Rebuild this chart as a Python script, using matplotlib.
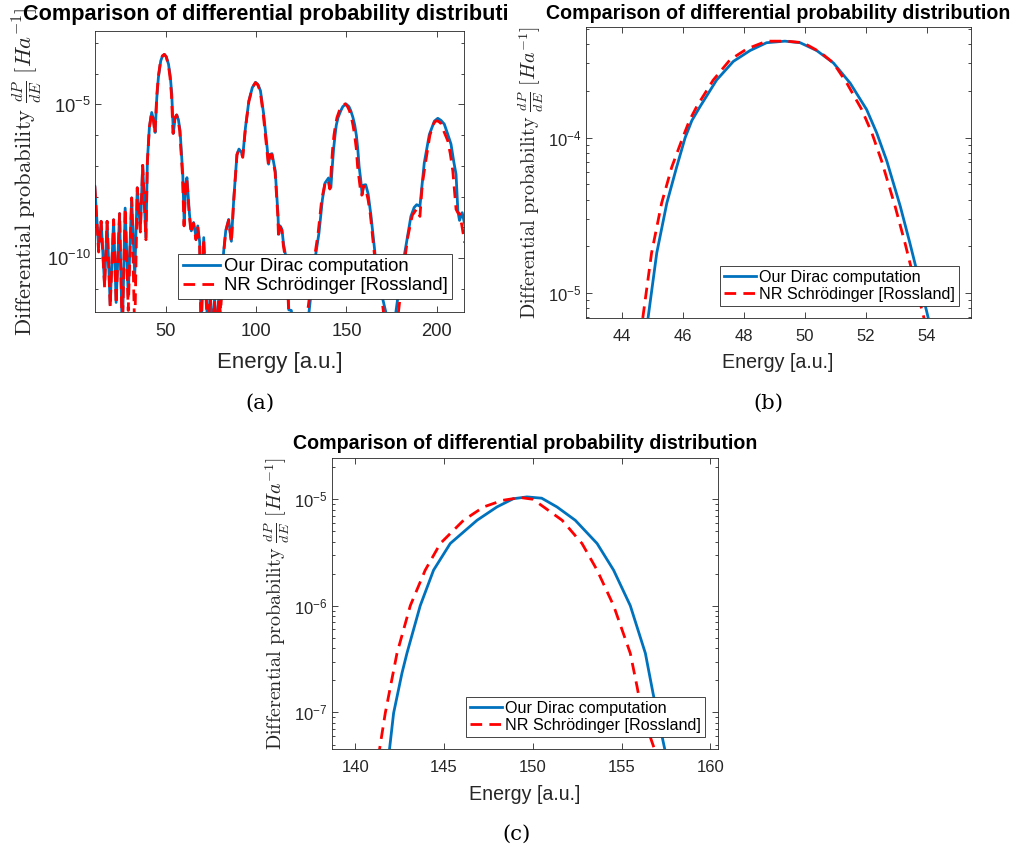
import numpy as np
import matplotlib.pyplot as plt
from matplotlib.ticker import FixedLocator, LogLocator, NullFormatter, FuncFormatter
from matplotlib.transforms import Bbox, TransformedBbox

plt.rcParams['font.family'] = ['Liberation Sans', 'DejaVu Sans']

W, H = 1014, 856
BLUE = '#0072BD'
RED = '#FF0000'
INK = '#262626'

# ---- panel (a): full spectrum, values stored as log10(dP/dE) ----
dirac_a_E = [10.7, 12.8, 14.2, 16.1, 17.5, 19.2, 21.1, 22.5, 24.4, 25.9, 27.5, 29.2, 31.1,
             32.8, 34.2, 35.9, 37.2, 39.0, 39.8, 40.9, 42.2, 43.2, 44.1, 45.0, 45.9, 47.2,
             48.2, 49.2, 50.3, 51.5, 52.5, 53.3, 54.2, 55.1, 56.1, 57.0, 57.9, 59.4, 60.2,
             61.0, 61.7, 63.1, 64.1, 65.4, 66.8, 67.7, 68.8, 69.6, 71.0, 72.3, 73.3, 74.6,
             75.8, 77.0, 78.3, 79.4, 80.3, 82.0, 83.2, 84.8, 86.3, 87.6, 88.5, 89.4, 90.5,
             91.8, 92.6, 94.1, 96.0, 97.9, 99.7, 101.0, 102.4, 104.2, 106.1, 106.9, 107.8,
             108.8, 110.6, 112.1, 112.5, 113.3, 114.3, 115.2, 116.3, 117.2, 118.1, 119.5,
             121.0, 125.5, 129.3, 132.0, 134.8, 136.7, 138.2, 140.1, 141.4, 142.2, 142.9,
             143.7, 144.4, 145.4, 146.9, 148.0, 149.7, 151.4, 152.4, 153.6, 154.6, 155.5,
             156.3, 157.0, 157.9, 158.7, 159.6, 160.7, 162.0, 163.5, 165.3, 167.5, 170.0,
             172.4, 174.5, 177.4, 180.0, 182.9, 185.7, 187.5, 188.9, 190.7, 193.1, 195.9,
             198.7, 200.6, 202.4, 204.2, 206.0, 207.9, 209.4, 210.7, 211.7, 212.6, 214.1,
             215.5]
dirac_a_logP = [-7.66, -9.66, -8.80, -10.86, -8.80, -11.51, -8.75, -11.44, -8.55, -12.5, -8.37,
                -11.24, -8.04, -10.59, -7.71, -9.07, -6.98, -9.33, -6.84, -5.75, -5.26, -5.50,
                -5.91, -4.80, -4.12, -3.58, -3.42, -3.37, -3.45, -3.69, -4.10, -4.66, -5.94,
                -5.45, -5.34, -5.50, -5.86, -7.27, -8.90, -7.60, -7.38, -8.57, -9.11, -8.84,
                -9.33, -8.95, -9.50, -12.5, -9.33, -11.0, -12.5, -11.1, -12.5, -11.3, -12.5,
                -11.2, -11.6, -9.80, -9.10, -8.74, -9.45, -8.10, -7.38, -6.62, -6.45, -6.55,
                -6.68, -5.75, -4.88, -4.45, -4.28, -4.35, -4.55, -5.32, -6.40, -6.94, -6.62,
                -6.60, -7.16, -8.57, -9.22, -8.95, -9.06, -9.55, -9.90, -10.4, -11.68, -11.70,
                -12.5, -12.5, -11.75, -10.27, -9.18, -8.09, -7.55, -7.39, -7.70, -7.00, -6.45,
                -6.00, -5.67, -5.42, -5.20, -5.07, -4.98, -5.07, -5.20, -5.42, -5.67, -6.00,
                -6.45, -7.00, -7.44, -7.93, -7.62, -7.61, -7.90, -8.57, -9.55, -10.8, -11.3,
                -11.9, -12.5, -11.75, -10.6, -9.62, -8.64, -8.35, -8.26, -8.31, -6.90, -5.98,
                -5.54, -5.45, -5.52, -5.64, -5.95, -6.29, -6.85, -7.27, -8.46, -8.77, -8.52,
                -8.90]

nr_a_E = [10.7, 12.8, 14.2, 16.1, 17.5, 19.2, 21.1, 22.5, 24.4, 25.9, 27.5, 29.2, 31.1,
          32.8, 34.2, 35.9, 37.2, 39.0, 39.8, 40.9, 42.1, 43.1, 44.0, 44.9, 45.8, 47.1,
          48.1, 49.2, 50.2, 51.4, 52.3, 53.1, 54.0, 54.9, 55.9, 56.8, 57.7, 59.2, 60.1,
          60.9, 61.6, 63.0, 64.0, 65.3, 66.7, 67.6, 68.7, 69.5, 70.9, 72.2, 73.2, 74.5,
          75.7, 76.9, 78.2, 79.3, 80.3, 82.0, 83.2, 84.8, 86.3, 87.6, 88.5, 89.4, 90.5,
          91.8, 92.6, 94.1, 96.0, 97.9, 99.6, 100.9, 102.3, 104.0, 105.9, 106.8, 107.7,
          108.7, 110.5, 112.0, 112.4, 113.2, 114.2, 115.1, 116.2, 117.1, 118.0, 119.4,
          120.8, 125.5, 128.5, 131.5, 134.3, 136.3, 138.0, 139.8, 140.8, 141.4, 141.7,
          142.35, 143.1, 143.94, 144.79, 146.1, 147.23, 149.3, 150.61, 151.65, 152.77,
          153.62, 154.55, 155.49, 156.15, 156.85, 157.6, 158.5, 159.5, 160.5, 162.0,
          163.3, 165.0, 167.3, 170.0, 172.0, 174.5, 178.8, 181.5, 184.0, 186.5, 188.9,
          190.7, 192.0, 193.5, 196.2, 198.3, 199.6, 201.0, 202.4, 204.0, 206.1, 207.5,
          208.9, 210.0, 210.7, 211.7, 212.6, 213.8, 215.5]
nr_a_logP = [-7.66, -9.80, -8.80, -10.95, -8.80, -11.6, -8.75, -11.5, -8.55, -12.5, -8.37,
             -11.7, -8.04, -12.5, -7.71, -9.15, -6.98, -9.40, -6.84, -5.75, -5.26, -5.50,
             -5.95, -4.80, -4.12, -3.58, -3.42, -3.37, -3.45, -3.70, -4.10, -4.66, -5.94,
             -5.45, -5.34, -5.50, -5.86, -7.27, -8.95, -7.60, -7.40, -8.60, -9.20, -8.86,
             -9.40, -8.97, -9.55, -12.5, -9.36, -11.2, -12.5, -11.2, -12.5, -11.4, -12.5,
             -11.3, -11.8, -9.85, -9.12, -8.76, -9.50, -8.12, -7.40, -6.64, -6.47, -6.57,
             -6.72, -5.77, -4.90, -4.45, -4.29, -4.36, -4.58, -5.35, -6.43, -6.97, -6.64,
             -6.63, -7.20, -8.62, -9.30, -8.98, -9.10, -9.60, -10.0, -10.5, -11.7, -11.75,
             -12.5, -12.5, -11.75, -10.30, -9.20, -8.10, -7.60, -7.45, -7.75, -7.34, -7.00,
             -6.45, -6.00, -5.67, -5.42, -5.20, -5.07, -4.98, -5.07, -5.20, -5.42, -5.67,
             -6.00, -6.45, -7.00, -7.34, -7.70, -7.95, -7.65, -7.70, -8.10, -8.60, -9.60,
             -10.9, -11.5, -12.5, -12.5, -11.75, -10.4, -9.30, -8.60, -8.40, -8.64, -7.60,
             -7.00, -6.00, -5.62, -5.53, -5.55, -5.62, -5.88, -6.18, -6.60, -7.16, -7.90,
             -8.41, -8.52, -8.55, -8.90, -9.50]

# ---- panel (b): zoom on the first peak ----
dirac_b_E = [44.70, 44.87, 45.15, 45.48, 45.80, 46.08, 46.30, 46.57, 47.11, 47.66, 48.21, 48.75,
             49.35, 49.85, 50.39, 50.94, 51.49, 52.03, 52.36, 52.69, 53.13, 53.45, 53.78, 54.05,
             54.30]
dirac_b_logP = [-5.40, -5.15, -4.74, -4.42, -4.19, -4.00, -3.89, -3.80, -3.63, -3.51, -3.44, -3.39,
                -3.38, -3.39, -3.44, -3.52, -3.65, -3.82, -3.97, -4.15, -4.44, -4.68, -4.94, -5.16,
                -5.40]
nr_b_E = [44.55, 44.69, 44.98, 45.31, 45.64, 46.00, 46.22, 46.46, 47.00, 47.55, 48.10, 48.75,
          49.41, 49.95, 50.50, 50.94, 51.38, 51.87, 52.20, 52.52, 52.96, 53.29, 53.62, 53.91,
          54.15]
nr_b_logP = [-5.40, -5.16, -4.74, -4.42, -4.19, -4.00, -3.89, -3.80, -3.63, -3.50, -3.43, -3.38,
             -3.38, -3.39, -3.45, -3.52, -3.65, -3.82, -3.97, -4.15, -4.44, -4.68, -4.94, -5.16,
             -5.40]

# ---- panel (c): zoom on the third peak ----
dirac_c_E = [141.75, 141.93, 142.16, 142.63, 142.91, 143.66, 144.41, 145.35, 146.86, 147.98,
             148.90, 149.67, 150.50, 151.36, 152.39, 153.62, 154.55, 155.49, 156.34, 156.77,
             157.00, 157.43, 157.65]
dirac_c_logP = [-7.60, -7.343, -7.006, -6.632, -6.445, -5.998, -5.665, -5.415, -5.197, -5.072,
                -4.995, -4.978, -4.99, -5.072, -5.197, -5.415, -5.665, -5.998, -6.445, -6.819,
                -7.006, -7.343, -7.60]
nr_c_E = [141.20, 141.37, 141.69, 142.35, 143.10, 143.94, 144.79, 146.10, 147.23, 148.30,
          149.30, 150.00, 150.61, 151.65, 152.77, 153.62, 154.55, 155.49, 155.87, 156.15,
          156.72, 156.85, 157.05]
nr_c_logP = [-7.60, -7.343, -7.006, -6.445, -5.998, -5.665, -5.415, -5.197, -5.072, -5.01,
             -4.984, -5.00, -5.072, -5.197, -5.415, -5.665, -5.998, -6.445, -6.757, -7.006,
             -7.281, -7.343, -7.60]

labels = ['Our Dirac computation', 'NR Schrödinger [Rossland]']
title = 'Comparison of differential probability distribution'
ylabel = r'$\mathrm{Differential\ probability}\ \frac{dP}{dE}\ [Ha^{-1}]$'

fig = plt.figure(figsize=(W / 100, H / 100), dpi=100)


def fx(x):
    return x / W


def fy(y):
    return 1 - y / H


def sci(v, pos):
    return r'$\mathregular{10^{%d}}$' % int(round(np.log10(v)))


def panel(box, E1, L1, E2, L2, xlim, ylim, xticks, yticks, minor_subs, fs, leg_box):
    l, t, r, b = box
    ax = fig.add_axes([fx(l), fy(b), fx(r) - fx(l), fy(t) - fy(b)])
    ax.semilogy(E1, 10.0 ** np.array(L1), color=BLUE, lw=2, label=labels[0])
    ax.semilogy(E2, 10.0 ** np.array(L2), color=RED, lw=2, ls=(0, (4.2, 2.6)), label=labels[1])
    ax.set_xlim(*xlim)
    ax.set_ylim(10.0 ** ylim[0], 10.0 ** ylim[1])
    ax.xaxis.set_major_locator(FixedLocator(xticks))
    ax.yaxis.set_major_locator(FixedLocator(yticks))
    ax.yaxis.set_major_formatter(FuncFormatter(sci))
    ax.yaxis.set_minor_locator(LogLocator(base=10, subs=minor_subs, numticks=50))
    ax.yaxis.set_minor_formatter(NullFormatter())
    ax.tick_params(which='both', direction='in', top=True, right=True, color=INK,
                   labelcolor=INK, labelsize=fs['tick'], width=0.6)
    ax.tick_params(axis='x', pad=fs['xpad'])
    ax.tick_params(axis='y', pad=3)
    ax.tick_params(which='major', length=4)
    ax.tick_params(which='minor', length=2.2)
    for s in ax.spines.values():
        s.set_color(INK)
        s.set_linewidth(0.6)
    lr, lb = leg_box
    leg = ax.legend(loc='lower right', bbox_to_anchor=(fx(lr), fy(lb)),
                    bbox_transform=fig.transFigure, borderaxespad=0, fontsize=fs['leg'],
                    fancybox=False, framealpha=1, edgecolor=INK, borderpad=0.25,
                    labelspacing=0.12, handlelength=2.0, handletextpad=0.2)
    leg.get_frame().set_linewidth(0.6)
    for tx in leg.get_texts():
        tx.set_color('black')
    return ax


fs_a = dict(tick=13.2, xpad=8.2, leg=13.3, lab=15.9, title=15.6, ylab=16.3)
fs_b = dict(tick=12.0, xpad=7.7, leg=11.6, lab=14.1, title=14.1, ylab=14.5)

panel((95, 31, 464, 312), dirac_a_E, dirac_a_logP, nr_a_E, nr_a_logP,
      (10.8, 215.1), (-11.75, -2.61), [50, 100, 150, 200], [1e-10, 1e-5], [1.0], fs_a, (452, 299))
panel((586, 27, 971, 318), dirac_b_E, dirac_b_logP, nr_b_E, nr_b_logP,
      (42.83, 55.45), (-5.159, -3.289), [44, 46, 48, 50, 52, 54], [1e-5, 1e-4],
      np.arange(2, 10), fs_b, (959, 306))
panel((332, 458, 718, 749), dirac_c_E, dirac_c_logP, nr_c_E, nr_c_logP,
      (138.69, 160.43), (-7.343, -4.613), [140, 145, 150, 155, 160], [1e-7, 1e-6, 1e-5],
      np.arange(2, 10), fs_b, (705, 737))

# titles, axis labels and sub-captions
ta = fig.text(fx(279.5), fy(14.5), title, ha='center', va='center', fontsize=fs_a['title'],
              fontweight='bold', color='black', zorder=5)
ta.set_clip_box(TransformedBbox(Bbox([[0, 0], [fx(507), 1]]), fig.transFigure))
ta.set_clip_on(True)
fig.text(fx(778.5), fy(13.5), title, ha='center', va='center', fontsize=fs_b['title'],
         fontweight='bold', color='black')
fig.text(fx(524.7), fy(443.5), title, ha='center', va='center', fontsize=fs_b['title'],
         fontweight='bold', color='black')

fig.text(fx(280), fy(362), 'Energy [a.u.]', ha='center', va='center', fontsize=fs_a['lab'], color=INK)
fig.text(fx(778), fy(363), 'Energy [a.u.]', ha='center', va='center', fontsize=fs_b['lab'], color=INK)
fig.text(fx(525), fy(795), 'Energy [a.u.]', ha='center', va='center', fontsize=fs_b['lab'], color=INK)

for (x, y, f) in [(27.5, 171.5, fs_a['ylab']), (530.7, 172.5, fs_b['ylab']), (277, 603.5, fs_b['ylab'])]:
    fig.text(fx(x), fy(y), ylabel, rotation=90, ha='center', va='center', fontsize=f,
             color=INK, math_fontfamily='cm')

for (x, y, s) in [(260, 403, '(a)'), (768, 403, '(b)'), (517, 834, '(c)')]:
    fig.text(fx(x), fy(y), s, ha='center', va='center', fontsize=15.2,
             family='DejaVu Serif', color='black')

fig.savefig('out.png', dpi=100)
